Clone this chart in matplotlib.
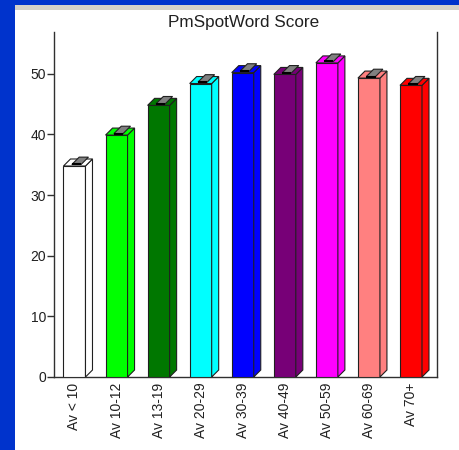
import matplotlib
matplotlib.use("Agg")
import matplotlib.pyplot as plt
from matplotlib.patches import Polygon, Rectangle

categories = ["Av < 10", "Av 10-12", "Av 13-19", "Av 20-29", "Av 30-39",
              "Av 40-49", "Av 50-59", "Av 60-69", "Av 70+"]
scores = [34.8, 39.9, 44.8, 48.4, 50.2, 49.9, 51.8, 49.3, 48.1]
colors = ["#ffffff", "#00ff00", "#007700", "#00ffff", "#0000ff",
          "#770077", "#ff00ff", "#ff8080", "#ff0000"]
yticks = [0, 10, 20, 30, 40, 50]
title = "PmSpotWord Score"

W, H = 459, 450
fig = plt.figure(figsize=(W / 100, H / 100), dpi=100, facecolor="#0033cc")
plt.rcParams["font.family"] = ["Liberation Sans", "DejaVu Sans"]

# white panel and gray strip
fig.patches.append(Rectangle((15 / W, 0), 1 - 15 / W, 1 - 10 / H,
                             transform=fig.transFigure, facecolor="white",
                             edgecolor="none", zorder=-10))
fig.patches.append(Rectangle((15 / W, 1 - 10 / H), 1 - 15 / W, 5 / H,
                             transform=fig.transFigure, facecolor="#d4d0c8",
                             edgecolor="none", zorder=-10))

ax = fig.add_axes([54 / W, 73 / H, (437 - 54) / W, (377 - 32) / H])
ax.set_facecolor("none")
ax.set_xlim(-0.487, 8.618)
ax.set_ylim(0, 56.9)

w = 0.523
dx = 7 / 42.06
dy = 7 / 6.06
ec = "#202020"
lw = 0.8

for i, (v, c) in enumerate(zip(scores, colors)):
    x0, x1 = i - w / 2, i + w / 2
    # front
    ax.add_patch(Polygon([(x0, 0), (x1, 0), (x1, v), (x0, v)], closed=True,
                         facecolor=c, edgecolor=ec, linewidth=lw, zorder=3))
    # side
    ax.add_patch(Polygon([(x1, 0), (x1 + dx, dy), (x1 + dx, v + dy), (x1, v)],
                         closed=True, facecolor=c, edgecolor=ec, linewidth=lw, zorder=3))
    # top
    ax.add_patch(Polygon([(x0, v), (x1, v), (x1 + dx, v + dy), (x0 + dx, v + dy)],
                         closed=True, facecolor=c, edgecolor=ec, linewidth=lw, zorder=3))
    # gray cap
    e = 0.25
    cx0, cx1 = i - 0.12 * w, i + 0.30 * w
    a, b = 0.0, 1.05
    ax.add_patch(Polygon([(cx0 + a * dx, v + a * dy + e), (cx1 + a * dx, v + a * dy + e),
                          (cx1 + b * dx, v + b * dy + e), (cx0 + b * dx, v + b * dy + e)],
                         closed=True, facecolor="#808080", edgecolor=ec,
                         linewidth=lw, zorder=4))
    ax.plot([cx0, cx1], [v + e, v + e], color="black", linewidth=1.5, zorder=5,
            solid_capstyle="butt")

for s in ["top"]:
    ax.spines[s].set_visible(False)
for s in ["left", "right", "bottom"]:
    ax.spines[s].set_color("#303030")
    ax.spines[s].set_linewidth(1.0)

ax.set_yticks(yticks)
ax.set_yticklabels([str(t) for t in yticks], fontsize=10, color="#202020")
ax.tick_params(axis="y", direction="out", length=5, width=1, pad=0.5, color="#303030")
ax.set_xticks(range(len(categories)))
ax.set_xticklabels(categories, rotation=90, fontsize=10, color="#202020",
                   va="top", ha="center")
ax.tick_params(axis="x", length=0, pad=4)

fig.text(244 / W, 1 - 22 / H, title, ha="center", va="center", fontsize=12.3,
         color="#202020")

fig.savefig("out.png", dpi=100, facecolor=fig.get_facecolor())
